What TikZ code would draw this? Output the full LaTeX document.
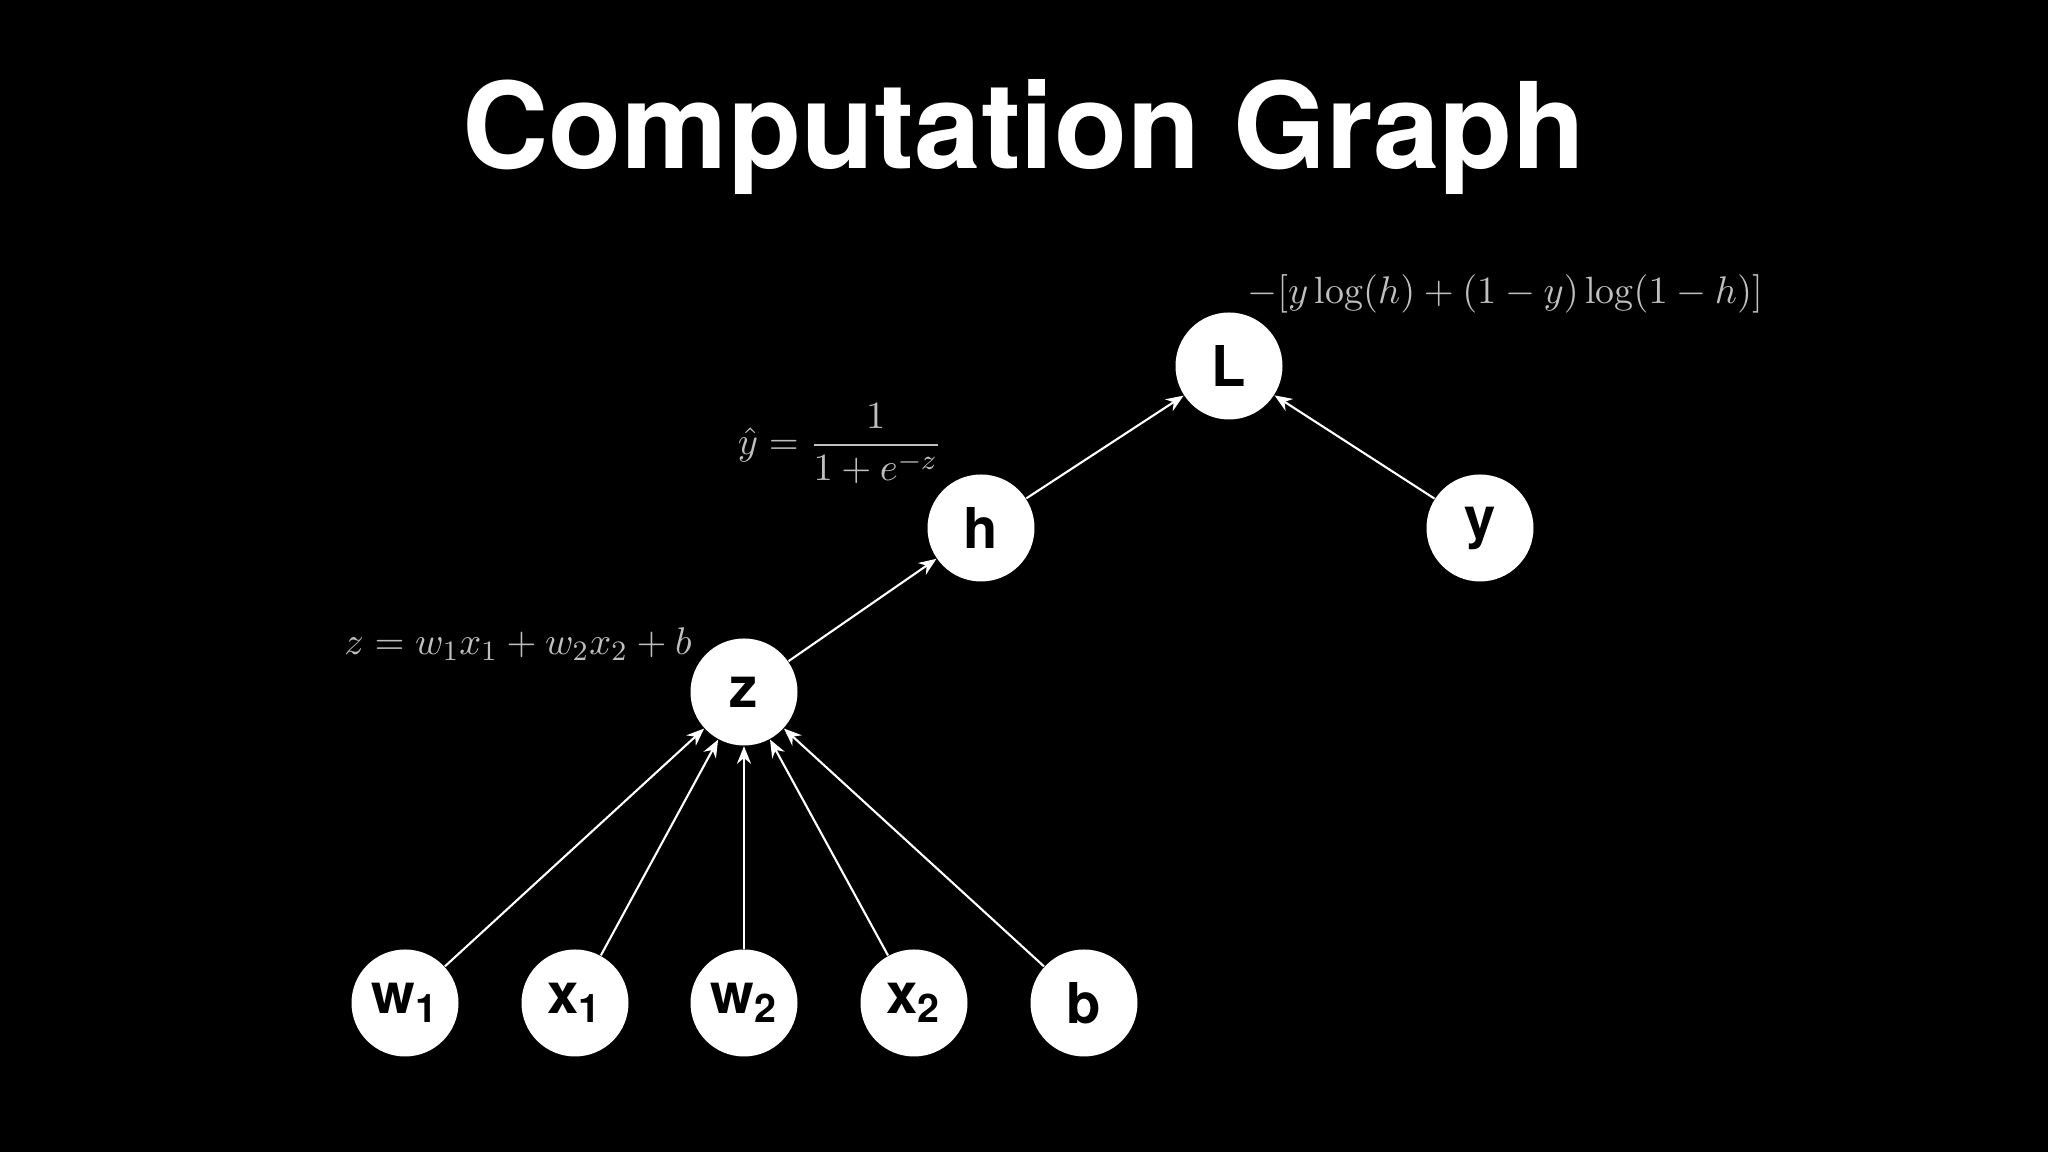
\documentclass[tikz,border=0pt]{standalone}
\usepackage{amsmath}
\usepackage{fontspec}
\newfontfamily\heros{TeX Gyre Heros}
\usepackage{tikz}
\usetikzlibrary{arrows.meta}

\begin{document}
\begin{tikzpicture}[
  var/.style = {circle, fill=white, minimum size=1.07cm, inner sep=0pt,
	text=black, font=\heros\fontsize{16}{19}\selectfont\bfseries},
  formula/.style = {text=black!25, font=\fontsize{10.8}{13}\selectfont},
  edge/.style = {draw=white, line width=0.6pt, -{Stealth[length=5pt,width=4pt]}}]

\fill[black] (0,0) rectangle (20.48,11.52);

\node[text=white, font=\heros\fontsize{34}{40}\selectfont\bfseries] (title) at (10.24,10.15) {Computation Graph};

\node[var] (L) at (12.29,7.86) {L};
\node[var] (h) at (9.81,6.24) {h};
\node[var] (y) at (14.80,6.24) {y};
\node[var] (z) at (7.44,4.60) {z};
\node[var] (w1) at (4.05,1.49) {w$_{\text{1}}$};
\node[var] (x1) at (5.75,1.49) {x$_{\text{1}}$};
\node[var] (w2) at (7.44,1.49) {w$_{\text{2}}$};
\node[var] (x2) at (9.14,1.49) {x$_{\text{2}}$};
\node[var] (b) at (10.84,1.49) {b};

% labels of the operations
\node[formula, anchor=west] (fL) at (12.35,8.58) {$-[y\log(h)+(1-y)\log(1-h)]$};
\node[formula] (fh) at (8.40,7.08) {$\hat{y}=\dfrac{1}{1+e^{-z}}$};
\node[formula] (fz) at (5.18,5.08) {$z=w_1x_1+w_2x_2+b$};

\foreach \n in {w1,x1,w2,x2,b}
  \draw[edge] (\n) -- (z);
\draw[edge] (z) -- (h);
\draw[edge] (h) -- (L);
\draw[edge] (y) -- (L);
\end{tikzpicture}
\end{document}
